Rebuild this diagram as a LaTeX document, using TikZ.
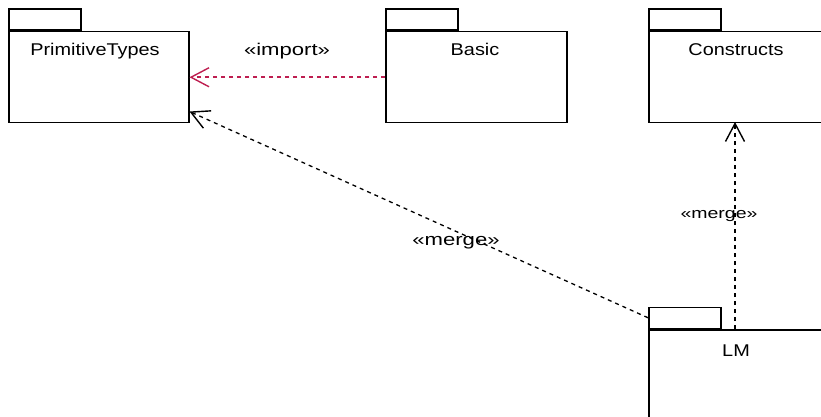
\documentclass[tikz,border=0pt]{standalone}
\usepackage{fontspec}
\setmainfont{Liberation Sans}
\newfontfamily\widefont[FakeStretch=1.17]{Liberation Sans}
\newfontfamily\stfont[FakeStretch=1.3]{Liberation Sans}
\usetikzlibrary{arrows.meta}
\definecolor{imp}{RGB}{190,30,80}
\begin{document}
\begin{tikzpicture}[x=1pt,y=-1pt,
  pkg/.style={draw=black,line width=1.5pt,minimum width=180pt,minimum height=91pt,anchor=north west,inner sep=0pt},
  tab/.style={draw=black,line width=1.5pt,minimum width=72pt,minimum height=21pt,anchor=south west,inner sep=0pt},
  pname/.style={font=\widefont\fontsize{17}{20}\selectfont,anchor=base,inner sep=0pt},
  stereo/.style={font=\stfont\fontsize{17}{20}\selectfont,anchor=base,inner sep=0pt},
  dep/.style={line width=1.3pt,dash pattern=on 4pt off 4pt,-{Straight Barb[length=18pt,width=19pt,line width=1.4pt]}}]
\useasboundingbox (0,0) rectangle (821,417);
\fill[white] (0,0) rectangle (821,417);
% PrimitiveTypes
\node[pkg] (pt) at (8,31) {};
\node[tab] (pttab) at (8,31) {};
\node[pname] (ptname) at (95,56) {PrimitiveTypes};
% Basic
\node[pkg,minimum width=181pt] (basic) at (385,31) {};
\node[tab] (basictab) at (385,31) {};
\node[pname] (basicname) at (475,56) {Basic};
% Constructs
\node[pkg,minimum width=185pt] (cons) at (648,31) {};
\node[tab] (constab) at (648,31) {};
\node[pname] (consname) at (736,56) {Constructs};
% LM
\node[pkg,minimum width=185pt,minimum height=110pt] (lm) at (648,329) {};
\node[tab] (lmtab) at (648,329) {};
\node[pname] (lmname) at (736,356) {LM};
% connectors
\draw[dep,color=imp,line width=1.6pt] (basic.west) -- (pt.east);
\node[stereo] (implbl) at (287,56) {«import»};
\draw[dep] (lmtab.west) -- ([yshift=12pt]pt.south east);
\node[stereo] (mlbl1) at (456,245) {«merge»};
\coordinate (vstart) at (735,329);
\coordinate (vend) at (735,122);
\draw[dep] (vstart) -- (vend);
\node[stereo,font=\stfont\fontsize{15}{18}\selectfont] (mlbl2) at (719,218) {«merge»};
\end{tikzpicture}
\end{document}
